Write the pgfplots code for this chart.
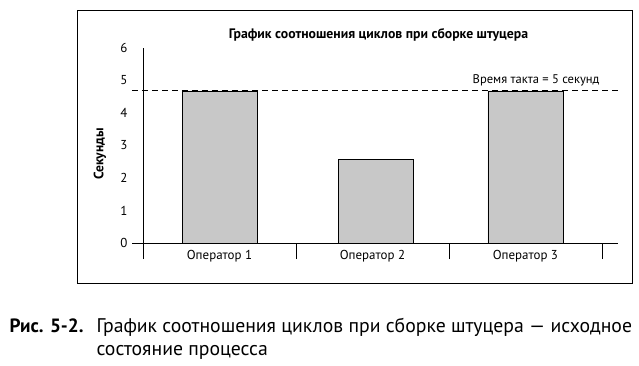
\documentclass[border=0pt]{standalone}
\usepackage{fontspec}
\setmainfont{PT Sans}
\usepackage{pgfplots}
\pgfplotsset{compat=1.18}
\definecolor{barfill}{RGB}{200,200,200}
\begin{document}
\begin{tikzpicture}[x=1bp,y=1bp]
\path[use as bounding box] (0,0) rectangle (639,365);
\draw[line width=1pt] (77,82) rectangle (632,355);
\node[font=\bfseries\fontsize{13.8}{16}\selectfont] at (378.5,330) {График соотношения циклов при сборке штуцера};
\node[font=\bfseries\fontsize{13.6}{15}\selectfont, rotate=90] at (100,211) {Секунды};
\begin{axis}[
  at={(143bp,122bp)}, anchor=origin,
  scale only axis, width=475bp, height=195bp,
  xmin=0.5, xmax=3.605, ymin=0, ymax=6,
  axis x line*=bottom, axis y line*=left,
  axis line style={line width=0.8pt},
  xtick={1,2,3}, xticklabels={Оператор 1,Оператор 2,Оператор 3},
  ytick={0,1,2,3,4,5,6},
  major tick length=0pt,
  extra x ticks={0.5,1.5,2.5,3.5}, extra x tick labels={},
  extra x tick style={major tick length=16bp, tick align=outside, tick style={line width=0.8pt, black}},
  extra y ticks={0}, extra y tick labels={},
  extra y tick style={major tick length=11bp, tick align=outside, tick style={line width=0.8pt, black}},
  tick style={black},
  /pgf/number format/assume math mode=true,
  ticklabel style={font=\fontsize{13}{15}\selectfont},
  yticklabel style={xshift=-12bp},
  xticklabel style={yshift=-4bp},
  clip=false,
]
\addplot[ybar, bar width=0.49, fill=barfill, draw=black, line width=0.8pt]
  coordinates {(1.005,4.68) (2.02,2.58) (3.0,4.68)};
\addplot[black, dashed, line width=0.8pt, dash pattern=on 6bp off 4bp]
  coordinates {(0.428,4.7) (3.605,4.7)};
\end{axis}
\node[anchor=base east, font=\fontsize{12.6}{14}\selectfont] at (603,282) {Время такта = 5 секунд};
\node[anchor=base west, font=\bfseries\fontsize{19.3}{22}\selectfont] at (6,33) {Рис. 5-2.};
\node[anchor=base west, font=\fontsize{19.8}{22}\selectfont] at (93,33) {График соотношения циклов при сборке штуцера — исходное};
\node[anchor=base west, font=\fontsize{19.8}{22}\selectfont] at (93,10) {состояние процесса};
\end{tikzpicture}
\end{document}
